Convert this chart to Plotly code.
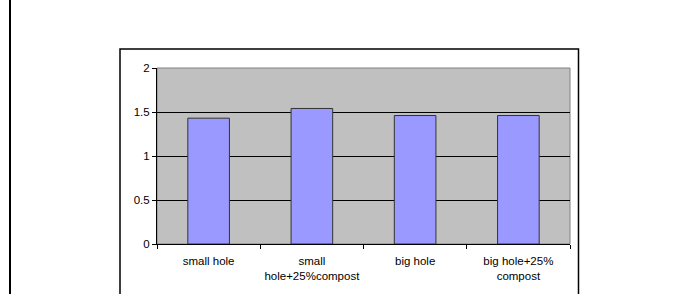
import plotly.graph_objects as go

categories = ["small hole", "small<br>hole+25%compost", "big hole", "big hole+25%<br>compost"]
values = [1.43, 1.54, 1.46, 1.46]
y_ticks = [0, 0.5, 1, 1.5, 2]
y_tick_labels = ["0", "0.5", "1", "1.5", "2"]

W, H = 685, 294
ML, MR, MT, MB = 157, 115, 68, 50
PW = W - ML - MR
PH = H - MT - MB

def px(x):
    return (x - ML) / PW

def py(y):
    return (H - MB - y) / PH

fig = go.Figure(go.Bar(
    x=categories, y=values,
    marker=dict(color="#9999FF", line=dict(color="#333333", width=1)),
))

fig.update_layout(
    width=W, height=H,
    margin=dict(l=ML, r=MR, t=MT, b=MB),
    paper_bgcolor="white", plot_bgcolor="#C0C0C0",
    bargap=0.597,
    showlegend=False,
    font=dict(family="Liberation Sans, Arial, sans-serif", size=11.5, color="black"),
    shapes=[
        dict(type="rect", xref="paper", yref="paper", x0=0, x1=1, y0=0, y1=1,
             line=dict(color="#808080", width=1), layer="below"),
        dict(type="rect", xref="paper", yref="paper", x0=px(120), x1=px(578.5),
             y0=py(300), y1=py(49), line=dict(color="black", width=1.5)),
        dict(type="line", xref="paper", yref="paper", x0=px(10), x1=px(10),
             y0=py(-5), y1=py(300), line=dict(color="black", width=2)),
    ],
)

fig.update_xaxes(
    showline=True, linecolor="black", linewidth=1,
    ticks="outside", ticklen=4, tickcolor="black", tickson="boundaries",
    showgrid=False, tickangle=0, ticklabelstandoff=6,
)
fig.update_yaxes(
    range=[0, 2], tickvals=y_ticks, ticktext=y_tick_labels,
    showline=True, linecolor="black", linewidth=1,
    ticks="outside", ticklen=4, tickcolor="black",
    showgrid=True, gridcolor="black", gridwidth=1, zeroline=False,
)

fig.write_html(
    "out.html",
    config={"displayModeBar": False},
    post_script="document.body.style.margin='0';document.body.style.overflow='hidden';",
)
